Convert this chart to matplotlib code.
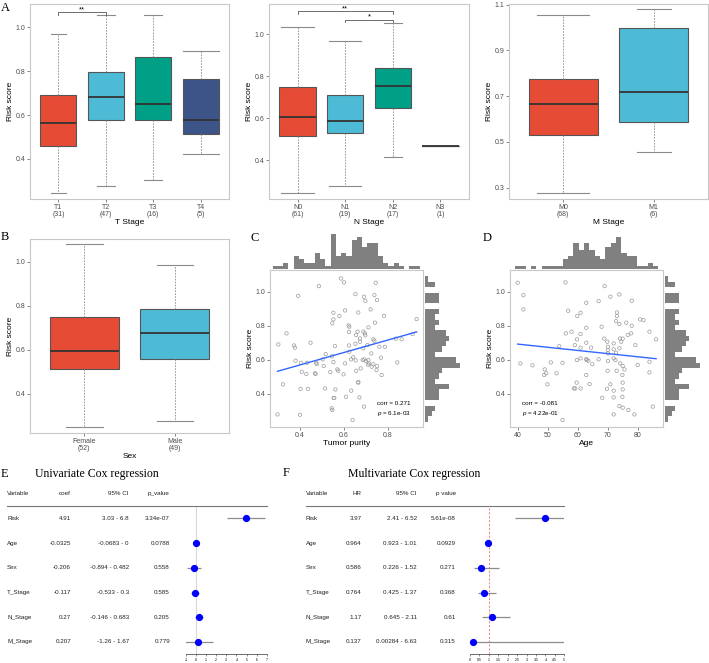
import numpy as np
import matplotlib
matplotlib.use('Agg')
from matplotlib import pyplot as plt
from matplotlib import transforms
from matplotlib.lines import Line2D

W, H = 709, 663

plt.rcParams['font.family'] = ['Liberation Sans', 'DejaVu Sans']
plt.rcParams['mathtext.fontset'] = 'custom'
plt.rcParams['mathtext.it'] = 'Liberation Sans:italic'
SERIF = ['Liberation Serif', 'DejaVu Serif']
NPG = ['#E64B35', '#4DBBD5', '#00A087', '#3C5488']
TICK_SIZE = 5
TITLE_SIZE = 6

# ---- boxplot summaries (risk score) ----
t_labels = ['T1', 'T2', 'T3', 'T4']
t_counts = [31, 47, 16, 5]
t_low = [0.245, 0.279, 0.303, 0.424]
t_q1 = [0.461, 0.576, 0.576, 0.512]
t_med = [0.565, 0.683, 0.648, 0.577]
t_q3 = [0.689, 0.794, 0.862, 0.764]
t_high = [0.970, 1.055, 1.053, 0.889]

n_labels = ['N0', 'N1', 'N2', 'N3']
n_counts = [61, 19, 17, 1]
n_low = [0.246, 0.281, 0.417, 0.468]
n_q1 = [0.516, 0.529, 0.651, 0.468]
n_med = [0.608, 0.588, 0.754, 0.468]
n_q3 = [0.748, 0.710, 0.838, 0.468]
n_high = [1.032, 0.968, 1.054, 0.468]

m_labels = ['M0', 'M1']
m_counts = [68, 6]
m_low = [0.277, 0.456]
m_q1 = [0.529, 0.586]
m_med = [0.665, 0.719]
m_q3 = [0.773, 0.998]
m_high = [1.055, 1.080]

sex_labels = ['Female', 'Male']
sex_counts = [52, 49]
sex_low = [0.250, 0.279]
sex_q1 = [0.512, 0.558]
sex_med = [0.597, 0.675]
sex_q3 = [0.749, 0.786]
sex_high = [1.079, 0.985]

# ---- scatter: tumor purity vs risk score ----
purity = [0.586, 0.600, 0.744, 0.486, 0.392, 0.652, 0.691, 0.697, 0.738, 0.750,
          0.605, 0.552, 0.665, 0.721, 0.552, 0.579, 0.547, 0.741, 0.782, 0.930,
          0.621, 0.624, 0.339, 0.623, 0.655, 0.673, 0.662, 0.711, 0.688, 0.695,
          0.697, 0.912, 0.862, 0.835, 0.302, 0.373, 0.377, 0.448, 0.559, 0.623,
          0.652, 0.673, 0.733, 0.738, 0.761, 0.786, 0.706, 0.688, 0.624, 0.724,
          0.517, 0.545, 0.552, 0.405, 0.380, 0.432, 0.474, 0.476, 0.508, 0.503,
          0.632, 0.642, 0.653, 0.685, 0.692, 0.700, 0.711, 0.714, 0.709, 0.733,
          0.750, 0.768, 0.842, 0.605, 0.570, 0.574, 0.408, 0.429, 0.468, 0.471,
          0.538, 0.598, 0.656, 0.676, 0.726, 0.748, 0.771, 0.323, 0.403, 0.436,
          0.514, 0.561, 0.665, 0.665, 0.633, 0.670, 0.609, 0.553, 0.556, 0.544,
          0.547, 0.691, 0.298, 0.400, 0.639]
purity_risk = [1.078, 1.055, 1.053, 1.033, 0.976, 0.986, 0.971, 0.947, 0.980, 0.951,
               0.890, 0.876, 0.878, 0.896, 0.837, 0.857, 0.814, 0.818, 0.859, 0.839,
               0.802, 0.794, 0.755, 0.763, 0.745, 0.725, 0.765, 0.790, 0.765, 0.755,
               0.743, 0.751, 0.720, 0.724, 0.690, 0.684, 0.671, 0.700, 0.680, 0.684,
               0.694, 0.706, 0.720, 0.712, 0.676, 0.676, 0.686, 0.667, 0.647, 0.637,
               0.633, 0.620, 0.586, 0.582, 0.594, 0.582, 0.582, 0.575, 0.563, 0.602,
               0.602, 0.614, 0.596, 0.598, 0.602, 0.592, 0.598, 0.578, 0.571, 0.573,
               0.563, 0.612, 0.584, 0.578, 0.543, 0.535, 0.529, 0.516, 0.520, 0.516,
               0.527, 0.514, 0.535, 0.549, 0.559, 0.539, 0.510, 0.455, 0.429, 0.429,
               0.431, 0.425, 0.469, 0.465, 0.418, 0.378, 0.382, 0.375, 0.375, 0.314,
               0.304, 0.324, 0.278, 0.276, 0.245]
purity_corr = ['corr = 0.271', r'$\it{p}$ = 6.1e-03']

# ---- scatter: age vs risk score ----
age = [40.0, 55.9, 68.9, 41.9, 70.8, 73.8, 62.8, 66.9, 77.9, 41.9,
       56.8, 60.9, 59.8, 73.0, 73.0, 72.7, 73.8, 76.1, 80.7, 81.8,
       77.9, 62.8, 67.9, 57.9, 56.0, 60.9, 83.8, 86.0, 68.8, 69.8,
       71.9, 74.0, 74.9, 74.4, 76.6, 77.7, 73.8, 79.1, 59.7, 62.8,
       59.0, 53.8, 60.9, 64.4, 70.0, 70.0, 70.0, 71.9, 72.7, 59.7,
       60.9, 62.8, 62.9, 63.5, 64.8, 66.9, 70.0, 71.9, 72.5, 74.1,
       74.9, 75.5, 40.9, 44.9, 51.0, 54.9, 49.5, 52.9, 49.0, 48.8,
       62.8, 59.6, 60.9, 63.9, 58.7, 49.9, 59.1, 69.9, 72.9, 74.8,
       79.9, 83.8, 83.8, 69.7, 71.9, 74.9, 74.9, 74.8, 71.9, 68.1,
       73.8, 74.9, 76.8, 84.9, 71.9, 78.8, 54.9, 70.8]
age_risk = [1.053, 1.055, 1.033, 0.980, 0.971, 0.984, 0.935, 0.945, 0.947, 0.896,
            0.888, 0.876, 0.857, 0.878, 0.857, 0.827, 0.810, 0.818, 0.837, 0.833,
            0.800, 0.788, 0.794, 0.765, 0.755, 0.751, 0.765, 0.720, 0.724, 0.706,
            0.696, 0.725, 0.724, 0.706, 0.745, 0.755, 0.667, 0.686, 0.720, 0.700,
            0.686, 0.680, 0.671, 0.671, 0.676, 0.657, 0.637, 0.661, 0.641, 0.598,
            0.608, 0.604, 0.598, 0.594, 0.573, 0.602, 0.592, 0.608, 0.598, 0.578,
            0.563, 0.543, 0.578, 0.567, 0.584, 0.582, 0.520, 0.520, 0.543, 0.510,
            0.510, 0.465, 0.431, 0.457, 0.431, 0.455, 0.431, 0.535, 0.535, 0.510,
            0.569, 0.588, 0.525, 0.429, 0.418, 0.465, 0.425, 0.382, 0.378, 0.376,
            0.327, 0.318, 0.304, 0.324, 0.278, 0.278, 0.245, 0.455]
age_corr = ['corr = -0.081', r'$\it{p}$ = 4.22e-01']

# ---- marginal histogram counts ----
purity_hist_range = (0.276, 0.945)
purity_hist = [1, 1, 2, 0, 4, 3, 2, 2, 5, 3, 1, 11, 4, 5, 4, 9, 10, 7, 8, 8, 4, 2, 1, 2, 1, 0, 1, 1]
age_hist_range = (39.1, 86.8)
age_hist = [1, 1, 0, 1, 0, 1, 1, 1, 1, 3, 4, 8, 6, 8, 6, 4, 3, 7, 8, 10, 5, 4, 4, 1, 1, 2, 1]
risk_hist_range = (0.235, 1.09)
risk_hist = [1, 2, 3, 0, 4, 4, 7, 3, 4, 5, 10, 9, 3, 5, 6, 7, 6, 3, 4, 3, 4, 0, 4, 4, 0, 3, 1]

# ---- Cox regression tables ----
cox_vars = ['Risk', 'Age', 'Sex', 'T_Stage', 'N_Stage', 'M_Stage']
uni_coef = [4.91, -0.0325, -0.206, -0.117, 0.27, 0.207]
uni_lo = [3.03, -0.0683, -0.894, -0.533, -0.146, -1.26]
uni_hi = [6.8, 0, 0.482, 0.3, 0.683, 1.67]
uni_p = [3.34e-07, 0.0788, 0.558, 0.585, 0.205, 0.779]
multi_hr = [3.97, 0.964, 0.586, 0.764, 1.17, 0.137]
multi_lo = [2.41, 0.923, 0.226, 0.425, 0.645, 0.00284]
multi_hi = [6.52, 1.01, 1.52, 1.37, 2.11, 6.63]
multi_p = [5.61e-08, 0.0929, 0.271, 0.368, 0.61, 0.315]


def px_axes(fig, left, top, right, bottom):
  return fig.add_axes([left / W, 1 - bottom / H, (right - left) / W,
                       (bottom - top) / H])


def fig_text(fig, x, y, s, **kw):
  fig.text(x / W, 1 - y / H, s, **kw)


def style_frame(ax):
  for sp in ax.spines.values():
    sp.set_color('#c8c8c8')
    sp.set_linewidth(0.8)
  ax.tick_params(length=2, width=0.5, color='#555555', labelsize=TICK_SIZE,
                 labelcolor='#4d4d4d', pad=1.5)


def draw_box(ax, labels, counts, low, q1, med, q3, high, caps, ylim, yticks,
             xlabel):
  stats = [dict(whislo=a, q1=b, med=c, q3=d, whishi=e)
           for a, b, c, d, e in zip(low, q1, med, q3, high)]
  width = 0.76
  pos = list(range(1, len(stats) + 1))
  bp = ax.bxp(stats, positions=pos, widths=width, showfliers=False,
              patch_artist=True, capwidths=[c * width for c in caps],
              boxprops=dict(edgecolor='#555555', linewidth=0.8),
              whiskerprops=dict(color='#8a8a8a', linestyle=(0, (2, 1.5)),
                                linewidth=0.6),
              capprops=dict(color='#8a8a8a', linewidth=0.8),
              medianprops=dict(color='#333333', linewidth=1.3))
  for patch, color in zip(bp['boxes'], NPG):
    patch.set_facecolor(color)
  ax.set_xlim(0.4, len(stats) + 0.6)
  ax.set_ylim(ylim)
  ax.set_yticks(yticks)
  ax.set_yticklabels(['%.1f' % v for v in yticks])
  ax.set_xticks(pos)
  ax.set_xticklabels(['%s\n(%d)' % (l, n) for l, n in zip(labels, counts)],
                     linespacing=1.05)
  style_frame(ax)
  ax.set_ylabel('Risk score', fontsize=TITLE_SIZE, labelpad=1)
  ax.set_xlabel(xlabel, fontsize=TITLE_SIZE, labelpad=0.5)


def bracket(ax, x1, x2, y, label, tick=0.012):
  ax.plot([x1, x1, x2, x2], [y - tick, y, y, y - tick], color='#555555', lw=0.6)
  ax.text((x1 + x2) / 2, y - 0.004, label, ha='center', va='bottom',
          fontsize=5.5)


def draw_scatter(fig, box, top_box, right_box, x, y, xlim, xticks, xlabel,
                 xhist, xhist_range, yhist, yhist_range, corr, text_x):
  ax = px_axes(fig, *box)
  ax.scatter(x, y, s=6, facecolors='none', edgecolors='#9a9a9a',
             linewidths=0.5)
  slope, icpt = np.polyfit(x, y, 1)
  xx = np.array([min(x), max(x)])
  ax.plot(xx, icpt + slope * xx, color='#3366FF', lw=1)
  ax.set_xlim(xlim)
  ax.set_ylim(0.204, 1.128)
  ax.set_xticks(xticks)
  ax.set_yticks([0.4, 0.6, 0.8, 1.0])
  ax.set_yticklabels(['0.4', '0.6', '0.8', '1.0'])
  style_frame(ax)
  ax.set_ylabel('Risk score', fontsize=TITLE_SIZE, labelpad=1)
  ax.set_xlabel(xlabel, fontsize=TITLE_SIZE, labelpad=0.5)
  fig_text(fig, text_x, 404, corr[0], fontsize=4.5, va='center')
  fig_text(fig, text_x, 414, corr[1], fontsize=4.5, va='center')

  top = px_axes(fig, *top_box)
  edges = np.linspace(xhist_range[0], xhist_range[1], len(xhist) + 1)
  top.bar(edges[:-1], xhist, width=np.diff(edges), align='edge',
          color='#808080', linewidth=0)
  top.set_xlim(xlim)
  top.set_ylim(0, 11.2)
  top.axis('off')

  right = px_axes(fig, *right_box)
  edges = np.linspace(yhist_range[0], yhist_range[1], len(yhist) + 1)
  right.barh(edges[:-1], yhist, height=np.diff(edges), align='edge',
             color='#808080', linewidth=0)
  right.set_ylim(0.204, 1.128)
  right.set_xlim(0, 10.3)
  right.axis('off')


def draw_forest(fig, left, right, xlim, xticks, est, lo, hi, ref, ref_kw,
                table, header_line_x):
  ax = px_axes(fig, left, 506, right, 654.3)
  rows = np.arange(len(est))
  ax.axvline(ref, zorder=1, **ref_kw)
  ax.hlines(rows, lo, hi, color='#8c8c8c', lw=0.9, zorder=2)
  ax.plot(est, rows, 'o', color='#0000FF', ms=4.2, clip_on=False, zorder=3)
  ax.set_xlim(xlim)
  ax.set_ylim(5.5, -0.5)
  ax.set_yticks([])
  ax.set_xticks(xticks)
  ax.set_xticklabels(['%g' % t for t in xticks])
  for side in ['left', 'right', 'top']:
    ax.spines[side].set_visible(False)
  ax.spines['bottom'].set_linewidth(0.5)
  ax.spines['bottom'].set_color('#333333')
  ax.tick_params(axis='x', length=1.5, width=0.4, labelsize=2.5, pad=1,
                 color='#333333')

  trans = transforms.blended_transform_factory(fig.transFigure, ax.transData)
  for col_x, ha, header, values in table:
    ax.text(col_x / W, -1, header, transform=trans, ha=ha, va='center',
            fontsize=4.5, color='#222222')
    for r, v in enumerate(values):
      ax.text(col_x / W, r, v, transform=trans, ha=ha, va='center',
              fontsize=4.5, color='#222222')
  fig.add_artist(Line2D([header_line_x[0] / W, header_line_x[1] / W],
                        [1 - 506 / H, 1 - 506 / H], color='#777777', lw=0.8))
  return ax


fig = plt.figure(figsize=(W / 100, H / 100), dpi=100)

# A: T / N / M stage
ax = px_axes(fig, 30, 4, 229, 199)
draw_box(ax, t_labels, t_counts, t_low, t_q1, t_med, t_q3, t_high,
         [0.4, 0.5, 0.5, 1.0], (0.218, 1.105), [0.4, 0.6, 0.8, 1.0], 'T Stage')
bracket(ax, 1, 2, 1.068, '**')

ax = px_axes(fig, 269, 4, 469, 199)
draw_box(ax, n_labels, n_counts, n_low, n_q1, n_med, n_q3, n_high,
         [0.9, 0.9, 0.5, 1.0], (0.217, 1.143), [0.4, 0.6, 0.8, 1.0], 'N Stage')
bracket(ax, 1, 3, 1.108, '**')
bracket(ax, 2, 3, 1.068, '*')

ax = px_axes(fig, 509, 4, 708, 199)
draw_box(ax, m_labels, m_counts, m_low, m_q1, m_med, m_q3, m_high,
         [0.75, 0.5], (0.25, 1.103), [0.3, 0.5, 0.7, 0.9, 1.1], 'M Stage')

# B: sex
ax = px_axes(fig, 30, 239, 229, 433)
draw_box(ax, sex_labels, sex_counts, sex_low, sex_q1, sex_med, sex_q3,
         sex_high, [0.54, 0.52], (0.223, 1.103), [0.4, 0.6, 0.8, 1.0], 'Sex')

# C / D: scatter with marginal histograms
draw_scatter(fig, (270, 270, 423, 427), (270, 233, 423, 269),
             (425, 270, 461, 427), purity, purity_risk, (0.264, 0.959),
             [0.4, 0.6, 0.8], 'Tumor purity', purity_hist, purity_hist_range,
             risk_hist, risk_hist_range, purity_corr, 377)
draw_scatter(fig, (510, 270, 663, 427), (510, 233, 663, 269),
             (665, 270, 701, 427), age, age_risk, (37.45, 88.3),
             [40, 50, 60, 70, 80], 'Age', age_hist, age_hist_range,
             risk_hist, risk_hist_range, age_corr, 522)

# E / F: Cox regression forest plots
uni_table = [
    (7, 'left', 'Variable', cox_vars),
    (71, 'right', 'coef', ['%g' % v for v in uni_coef]),
    (129, 'right', '95% CI', ['%g - %g' % (a, b) for a, b in zip(uni_lo, uni_hi)]),
    (170, 'right', 'p_value', ['%g' % v for v in uni_p]),
]
draw_forest(fig, 186, 266.7, (-1, 7), list(range(-1, 8)), uni_coef, uni_lo,
            uni_hi, 0, dict(color='#d9d9d9', lw=0.8), uni_table, (7, 267))

multi_table = [
    (306, 'left', 'Variable', cox_vars),
    (361.7, 'right', 'HR', ['%g' % v for v in multi_hr]),
    (416.7, 'right', '95% CI', ['%g - %g' % (a, b) for a, b in zip(multi_lo, multi_hi)]),
    (456, 'right', 'p value', ['%g' % v for v in multi_p]),
]
draw_forest(fig, 470, 564.3, (0, 5), list(np.arange(0, 5.01, 0.5)), multi_hr,
            multi_lo, multi_hi, 1,
            dict(color='#f08c8c', lw=0.8, linestyle=(0, (2, 1.5))),
            multi_table, (306, 564))

# panel letters and titles
for letter, x, y in [('A', 5, 8), ('B', 5, 237), ('C', 255, 238),
                     ('D', 487, 238), ('E', 4, 474), ('F', 286, 473)]:
  fig_text(fig, x, y, letter, family=SERIF, fontsize=9, ha='center',
           va='center')
fig_text(fig, 35, 474, 'Univariate Cox regression', family=SERIF, fontsize=8.5,
         va='center')
fig_text(fig, 348, 474, 'Multivariate Cox regression', family=SERIF,
         fontsize=8.5, va='center')

fig.savefig('out.png', dpi=100)
